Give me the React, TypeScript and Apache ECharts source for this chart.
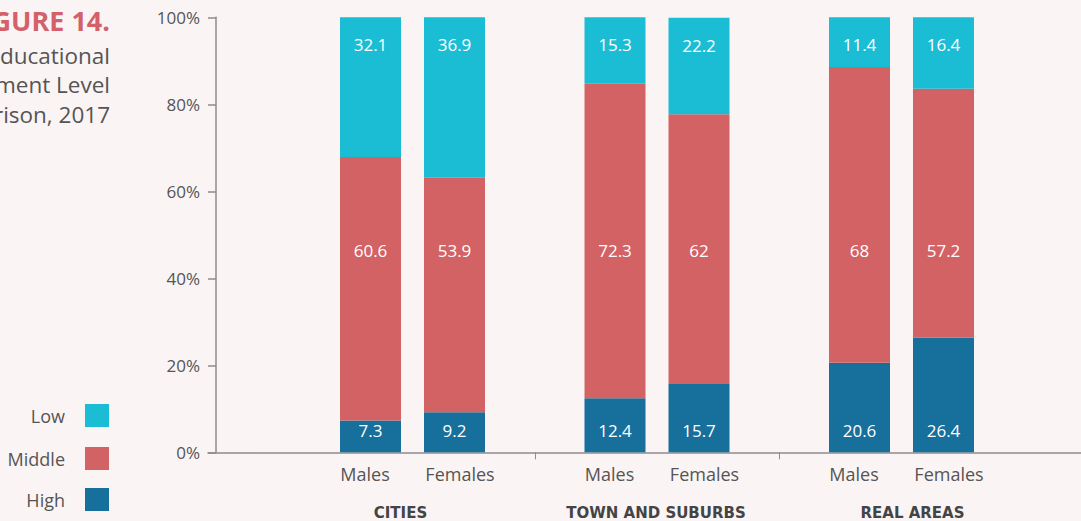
import React, { useEffect, useRef } from 'react';
import * as echarts from 'echarts';

// ---- data ----
const groups = ['CITIES', 'TOWN AND SUBURBS', 'REAL AREAS'];
const genders = ['Males', 'Females'];
const levels = ['Low', 'Middle', 'High'];
const highMales = [7.3, 12.4, 20.6];
const middleMales = [60.6, 72.3, 68];
const lowMales = [32.1, 15.3, 11.4];
const highFemales = [9.2, 15.7, 26.4];
const middleFemales = [53.9, 62, 57.2];
const lowFemales = [36.9, 22.2, 16.4];
const yMin = 0;
const yMax = 100;
const yStep = 20;
const figureLabel = 'FIGURE 14.';
const titleLines = ['Educational', 'Attainment Level', 'Comparison, 2017'];

// ---- styles ----
const FONT = '"Open Sans", "Noto Sans", sans-serif';
const BOLD_FONT = '"DejaVu Sans", "Open Sans", sans-serif';
const TEXT = '#555555';
const AXIS = '#8c8c8c';
const BG = '#faf4f4';
const COLORS: Record<string, string> = { Low: '#1bbdd4', Middle: '#d36264', High: '#176f9c' };
const MIDDLE_LABEL_LEVEL = 46.3; // middle labels sit at a common height

export default function App() {
  const ref = useRef<HTMLDivElement>(null);

  useEffect(() => {
    if (!ref.current) return;
    const chart = echarts.init(ref.current, undefined, { renderer: 'svg' });

    const pad = (arr: number[]) => [...arr, null];

    const valueLabel = (extra: any) => ({
      show: true,
      color: '#ffffff',
      fontFamily: FONT,
      fontSize: 17,
      formatter: (p: any) => String(p.value),
      ...extra,
    });

    const middleData = (mid: number[], high: number[]) => [
      ...mid.map((v, i) => {
        const pct = ((high[i] + v - MIDDLE_LABEL_LEVEL) / v) * 100;
        return {
          value: v,
          label: { position: ['50%', `${pct}%`], align: 'center', verticalAlign: 'middle' },
        };
      }),
      null,
    ];

    const makeStack = (stack: string, high: number[], mid: number[], low: number[]) => [
      {
        name: 'High', type: 'bar', stack, data: pad(high),
        itemStyle: { color: COLORS.High },
        label: valueLabel({ position: 'insideBottom', distance: 13 }),
      },
      {
        name: 'Middle', type: 'bar', stack, data: middleData(mid, high),
        itemStyle: { color: COLORS.Middle },
        label: valueLabel({}),
      },
      {
        name: 'Low', type: 'bar', stack, data: pad(low),
        itemStyle: { color: COLORS.Low },
        label: valueLabel({ position: 'insideTop', distance: 19 }),
      },
    ];

    const series: any[] = [
      ...makeStack('M', highMales, middleMales, lowMales),
      ...makeStack('F', highFemales, middleFemales, lowFemales),
    ].map((s) => ({ ...s, barWidth: 61, barGap: '37.7%', xAxisIndex: 0, yAxisIndex: 0 }));

    const legendTops = [404, 447, 488];

    const groupStyle = (padding: number[]) => ({
      fontFamily: BOLD_FONT, fontWeight: 'bold', fontSize: 15, color: '#444', lineHeight: 54, align: 'center', padding,
    });

    const option: any = {
      animation: false,
      backgroundColor: BG,
      textStyle: { fontFamily: FONT },
      grid: [
        { left: 290.25, width: 978, top: 17.3, bottom: 68.7, containLabel: false, outerBoundsMode: 'none' },
        { left: 208, width: 900, top: 17.3, bottom: 68.7, containLabel: false, outerBoundsMode: 'none' },
      ],
      legend: levels.map((name, i) => ({
        data: [name],
        orient: 'vertical',
        align: 'right',
        right: 972,
        top: legendTops[i],
        padding: 0,
        itemWidth: 24,
        itemHeight: 23,
        icon: 'rect',
        selectedMode: false,
        textStyle: { fontFamily: FONT, fontSize: 18, color: TEXT, padding: [0, 15, 0, 0] },
      })),
      xAxis: [
        {
          type: 'category',
          gridIndex: 0,
          data: [...groups, ''],
          axisLine: { show: false },
          axisTick: {
            show: true,
            length: 7,
            interval: (i: number) => i === 1 || i === 2,
            lineStyle: { color: AXIS, width: 1 },
          },
          axisLabel: {
            interval: 0,
            margin: 10,
            formatter: (value: string, index: number) =>
              value ? `{m|${genders[0]}}{f|${genders[1]}}\n{g${index}|${value}}` : '',
            rich: {
              m: { width: 95, align: 'center', fontFamily: FONT, fontSize: 18, color: TEXT, lineHeight: 24 },
              f: { width: 95, align: 'center', fontFamily: FONT, fontSize: 18, color: TEXT, lineHeight: 24 },
              g0: groupStyle([0, 24, 0, 0]),
              g1: groupStyle([0, 2, 0, 0]),
              g2: groupStyle([0, 0, 0, 22]),
            },
          },
          splitLine: { show: false },
        },
        {
          type: 'value',
          gridIndex: 1,
          min: 0,
          max: 1,
          axisLine: { show: true, lineStyle: { color: AXIS, width: 1.5 } },
          axisTick: { show: false },
          axisLabel: { show: false },
          splitLine: { show: false },
        },
      ],
      yAxis: [
        {
          type: 'value',
          gridIndex: 0,
          min: yMin,
          max: yMax,
          interval: yStep,
          offset: 74.25,
          axisLine: { show: true, lineStyle: { color: AXIS, width: 1.5 } },
          axisTick: { show: true, length: 8, lineStyle: { color: AXIS, width: 1.5 } },
          axisLabel: { formatter: '{value}%', fontFamily: FONT, fontSize: 17, color: TEXT, margin: 16 },
          splitLine: { show: false },
        },
        { type: 'value', gridIndex: 1, show: false, min: 0, max: 1 },
      ],
      graphic: [
        {
          type: 'text', x: 110, y: 20,
          style: { text: figureLabel, font: `bold 27px ${FONT}`, fill: '#d4606a', align: 'right', verticalAlign: 'middle' },
        },
        ...titleLines.map((t, i) => ({
          type: 'text', x: 110, y: 55 + i * 29.5,
          style: { text: t, font: `22.5px ${FONT}`, fill: TEXT, align: 'right', verticalAlign: 'middle' },
        })),
      ],
      series,
    };

    chart.setOption(option);
    return () => chart.dispose();
  }, []);

  return (
    <div
      ref={ref}
      style={{ position: 'fixed', left: 0, top: 0, width: 1081, height: 521, background: BG }}
    />
  );
}
